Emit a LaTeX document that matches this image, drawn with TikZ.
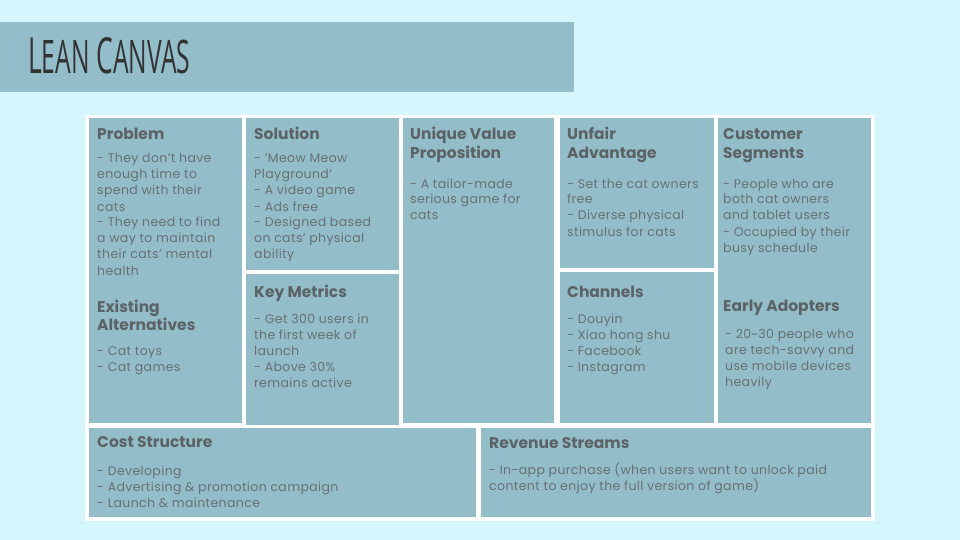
\documentclass[tikz,border=0pt]{standalone}
\usepackage{fontspec}
\setmainfont{Poppins}
\newfontfamily\bodyfont[LetterSpace=3]{Poppins}
\newfontfamily\titlefont{Open Sans}
\definecolor{bgc}{HTML}{D5F6FD}
\definecolor{boxc}{HTML}{93BEC9}
\definecolor{headc}{HTML}{5C6366}
\definecolor{bodyc}{HTML}{677073}
\definecolor{titlec}{HTML}{333333}
% stacked lines whose reference point is the baseline of the first line
\newcommand\stack[1]{\vtop{\halign{##\hfil\cr#1\crcr}}}
% small capitals built from scaled capitals
\newcommand\smallcap[1]{\scalebox{0.93}{#1}}
\begin{document}
\begin{tikzpicture}[x=1pt,y=-1pt,
  cell/.style={fill=boxc, draw=none, inner sep=0, anchor=north west},
  head/.style={anchor=base west, inner sep=0, text=headc,
    font=\fontsize{15.5}{18.5}\selectfont\bfseries},
  body/.style={anchor=base west, inner sep=0, text=bodyc,
    font=\bodyfont\fontsize{12.5}{16}\selectfont}]
% page and frame
\fill[bgc] (0,0) rectangle (960,540);
\useasboundingbox (0,0) rectangle (960,540);
\node[fill=boxc, inner sep=0, anchor=north west, minimum width=574pt, minimum height=70pt] (bar) at (0,22) {};
\node[anchor=base west, inner sep=0, text=titlec] (title) at (28,74)
  {\resizebox{162pt}{36pt}{\titlefont L\smallcap{EAN} C\smallcap{ANVAS}}};
\node[fill=white, inner sep=0, anchor=north west, minimum width=790pt, minimum height=406pt] (panel) at (85,115) {};

% cells
\node[cell, minimum width=153pt, minimum height=305pt] (problem) at (89,118) {};
\node[cell, minimum width=153pt, minimum height=152pt] (solution) at (246,118) {};
\node[cell, minimum width=153pt, minimum height=151pt] (metrics) at (246,274) {};
\node[cell, minimum width=151pt, minimum height=305pt] (uvp) at (403,118) {};
\node[cell, minimum width=154pt, minimum height=150pt] (unfair) at (560,118) {};
\node[cell, minimum width=154pt, minimum height=151pt] (channels) at (560,272) {};
\node[cell, minimum width=153pt, minimum height=305pt] (segments) at (718,118) {};
\node[cell, minimum width=387pt, minimum height=89pt] (cost) at (89,428) {};
\node[cell, minimum width=390pt, minimum height=89pt] (revenue) at (481,428) {};

% texts
\node[head] (problemH) at (97,140) {Problem};
\node[body] (problemB) at (97,163) {\stack{- They don’t have\cr enough time to\cr spend with their\cr cats\cr - They need to find\cr a way to maintain\cr their cats’ mental\cr health}};
\node[head] (altH) at (97,312) {\stack{Existing\cr Alternatives}};
\node[body] (altB) at (97,355) {\stack{- Cat toys\cr - Cat games}};

\node[head] (solutionH) at (254,140) {Solution};
\node[body] (solutionB) at (254,163) {\stack{- ‘Meow Meow\cr Playground’\cr - A video game\cr - Ads free\cr - Designed based\cr on cats’ physical\cr ability}};
\node[head] (metricsH) at (254,297) {Key Metrics};
\node[body] (metricsB) at (254,323) {\stack{- Get 300 users in\cr the first week of\cr launch\cr - Above 30\%\cr remains active}};

\node[head] (uvpH) at (410,140) {\stack{Unique Value\cr Proposition}};
\node[body] (uvpB) at (410,188) {\stack{- A tailor-made\cr serious game for\cr cats}};

\node[head] (unfairH) at (567,140) {\stack{Unfair\cr Advantage}};
\node[body] (unfairB) at (567,188) {\stack{- Set the cat owners\cr free\cr - Diverse physical\cr stimulus for cats}};
\node[head] (channelsH) at (567,297) {Channels};
\node[body] (channelsB) at (567,323) {\stack{- Douyin\cr - Xiao hong shu\cr - Facebook\cr - Instagram}};

\node[head] (segmentsH) at (723,140) {\stack{Customer\cr Segments}};
\node[body] (segmentsB) at (723,188) {\stack{- People who are\cr both cat owners\cr and tablet users\cr - Occupied by their\cr busy schedule}};
\node[head] (adoptersH) at (723,311) {Early Adopters};
\node[body] (adoptersB) at (725,338) {\stack{- 20\textasciitilde30 people who\cr are tech-savvy and\cr use mobile devices\cr heavily}};

\node[head] (costH) at (97,447) {Cost Structure};
\node[body] (costB) at (97,475) {\stack{- Developing\cr - Advertising \& promotion campaign\cr - Launch \& maintenance}};
\node[head] (revenueH) at (489,448) {Revenue Streams};
\node[body] (revenueB) at (489,474) {\stack{- In-app purchase (when users want to unlock paid\cr content to enjoy the full version of game)}};
\end{tikzpicture}
\end{document}
